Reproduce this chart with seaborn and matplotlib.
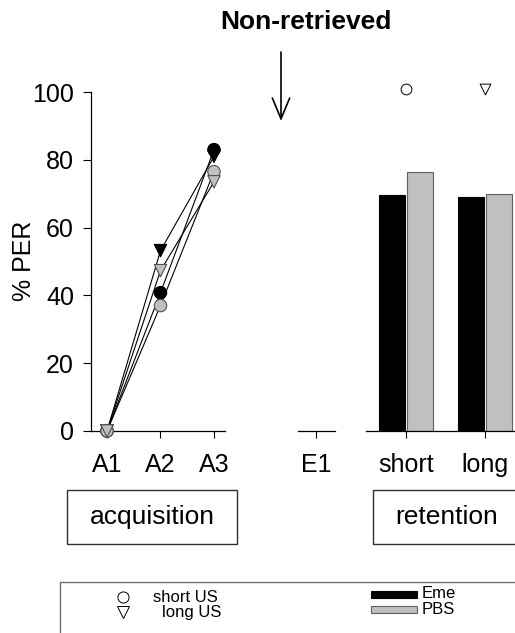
import numpy as np
import pandas as pd
import matplotlib
matplotlib.use('Agg')
import matplotlib.pyplot as plt
from matplotlib.patches import Rectangle
from matplotlib.lines import Line2D
import seaborn as sns

# ---------------- data ----------------
sessions = ['A1', 'A2', 'A3']
eme_short = [0, 40.8, 83.0]
eme_long = [0, 53.2, 81.0]
pbs_short = [0, 37.0, 76.5]
pbs_long = [0, 47.3, 73.5]

tests = ['short', 'long']
ret_eme = [69.5, 69.0]
ret_pbs = [76.5, 70.0]
signif = [101, 101]

BLACK = '#000000'
GRAY = '#c0c0c0'

rows = []
for treat, us, vals in [('Eme', 'short', eme_short), ('Eme', 'long', eme_long),
                        ('PBS', 'short', pbs_short), ('PBS', 'long', pbs_long)]:
    for i, v in enumerate(vals):
        rows.append({'x': i, 'per': v, 'treat': treat, 'us': us, 'grp': treat + us})
df_acq = pd.DataFrame(rows)

df_ret = pd.DataFrame({
    'test': tests * 2,
    'per': ret_eme + ret_pbs,
    'treat': ['Eme'] * 2 + ['PBS'] * 2,
})

# ---------------- figure ----------------
sns.set_style('ticks')
plt.rcParams['font.family'] = ['Liberation Sans', 'DejaVu Sans']
plt.rcParams.update({'text.color': 'black', 'axes.labelcolor': 'black',
                     'xtick.color': 'black', 'ytick.color': 'black',
                     'axes.edgecolor': 'black'})

W, H = 515, 633
fig = plt.figure(figsize=(W / 100, H / 100), dpi=100)
fx = lambda px: px / W
fy = lambda py: 1 - py / H

y0, y100 = 431, 92
bot = fy(y0)
hgt = (y0 - y100) / H

# acquisition panel
ax1 = fig.add_axes([fx(90.7), bot, fx(225 - 90.7), hgt])
sns.lineplot(data=df_acq, x='x', y='per', units='grp', estimator=None,
             color='black', lw=0.8, ax=ax1, legend=False)
for treat, fill, edge in [('Eme', BLACK, BLACK), ('PBS', GRAY, '#505050')]:
    sns.scatterplot(data=df_acq[df_acq.treat == treat], x='x', y='per', style='us',
                    markers={'short': 'o', 'long': 'v'}, color=fill, edgecolor=edge,
                    linewidth=0.8, s=80, ax=ax1, legend=False, zorder=3)
for c in ax1.collections:
    c.set_clip_on(False)
ax1.set_xlim(-0.305, 2.206)
ax1.set_ylim(0, 100)
ax1.set_xticks(range(len(sessions)))
ax1.set_xticklabels(sessions)
ax1.set_yticks([0, 20, 40, 60, 80, 100])
ax1.set_xlabel('')
ax1.set_ylabel('')
sns.despine(ax=ax1)

# non-retrieved panel
ax2 = fig.add_axes([fx(297.7), bot, fx(335 - 297.7), hgt])
ax2.set_xlim(-0.5, 0.5)
ax2.set_ylim(0, 100)
ax2.set_xticks([0])
ax2.set_xticklabels(['E1'])
ax2.set_yticks([])
sns.despine(ax=ax2, left=True)

# retention panel
ax3 = fig.add_axes([fx(366), bot, fx(W - 366), hgt])
sns.barplot(data=df_ret, x='test', y='per', hue='treat', order=tests,
            hue_order=['Eme', 'PBS'], palette={'Eme': BLACK, 'PBS': GRAY},
            width=0.71, gap=0.1, ax=ax3, legend=False)
for p in ax3.patches:
    fc = p.get_facecolor()
    p.set_edgecolor('black' if fc[0] < 0.5 else '#606060')
    p.set_linewidth(0.8)
xpos = np.arange(len(tests))
sns.scatterplot(x=xpos[:1], y=signif[:1], marker='o', s=60, facecolor='white',
                edgecolor='black', linewidth=0.7, ax=ax3, legend=False)
sns.scatterplot(x=xpos[1:], y=signif[1:], marker='v', s=60, facecolor='white',
                edgecolor='black', linewidth=0.7, ax=ax3, legend=False)
for c in ax3.collections:
    c.set_clip_on(False)
ax3.set_xlim(-0.506, 1.38)
ax3.set_ylim(0, 100)
ax3.set_xticks(xpos)
ax3.set_xticklabels(tests)
ax3.set_yticks([])
ax3.set_xlabel('')
ax3.set_ylabel('')
sns.despine(ax=ax3, left=True)

for ax in (ax1, ax2, ax3):
    ax.tick_params(axis='x', length=5, width=0.8, pad=11, labelsize=18)
    ax.tick_params(axis='y', length=6, width=0.8, pad=6, labelsize=18)
    for s in ax.spines.values():
        s.set_linewidth(0.9)
    ax.patch.set_alpha(0)

fig.text(fx(24), fy(261), '% PER', rotation=90, ha='center', va='center', fontsize=18)
fig.text(fx(305.5), fy(22), 'Non-retrieved', ha='center', va='center',
         fontsize=19, fontweight='bold')
ax1.annotate('', xy=(fx(281), fy(121)), xytext=(fx(281), fy(52)),
             xycoords='figure fraction', textcoords='figure fraction',
             arrowprops=dict(arrowstyle='->, head_length=0.6, head_width=0.25',
                             lw=1.2, color='black', mutation_scale=25,
                             shrinkA=0, shrinkB=0))

# phase boxes
for x0, x1, label, cx in [(67, 237, 'acquisition', 152), (373, 530, 'retention', 447)]:
    fig.patches.append(Rectangle((fx(x0), fy(544)), fx(x1 - x0), (544 - 490) / H,
                                 transform=fig.transFigure, fill=False,
                                 edgecolor='#303030', lw=1.0))
    fig.text(fx(cx), fy(517), label, ha='center', va='center', fontsize=19)

# legend box
fig.patches.append(Rectangle((fx(60), fy(650)), fx(500), (650 - 582) / H,
                             transform=fig.transFigure, fill=False,
                             edgecolor='#707070', lw=1.0))
fig.lines.append(Line2D([fx(123)], [fy(597)], transform=fig.transFigure, marker='o',
                        ms=8, mfc='white', mec='black', mew=0.7, ls='none'))
fig.lines.append(Line2D([fx(123)], [fy(612)], transform=fig.transFigure, marker='v',
                        ms=8, mfc='white', mec='black', mew=0.7, ls='none'))
fig.text(fx(153), fy(597), 'short US', ha='left', va='center', fontsize=12)
fig.text(fx(162), fy(613), 'long US', ha='left', va='center', fontsize=12)
fig.patches.append(Rectangle((fx(371), fy(598)), fx(46), 7 / H, transform=fig.transFigure,
                             facecolor=BLACK, edgecolor='black', lw=0.8))
fig.patches.append(Rectangle((fx(371), fy(613)), fx(46), 7 / H, transform=fig.transFigure,
                             facecolor=GRAY, edgecolor='#606060', lw=0.8))
fig.text(fx(422), fy(594), 'Eme', ha='left', va='center', fontsize=12)
fig.text(fx(422), fy(610), 'PBS', ha='left', va='center', fontsize=12)

fig.savefig('out.png', dpi=100)
